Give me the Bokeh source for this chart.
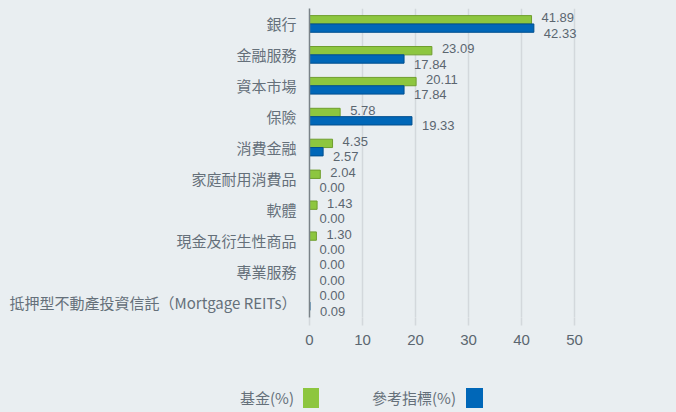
from bokeh.plotting import figure
from bokeh.models import ColumnDataSource, FactorRange, Range1d, FixedTicker, Div
from bokeh.layouts import column
from bokeh.transform import dodge
from bokeh.core.properties import value
from bokeh.embed import file_html
from bokeh.resources import INLINE

categories = ["銀行", "金融服務", "資本市場", "保險", "消費金融", "家庭耐用消費品",
              "軟體", "現金及衍生性商品", "專業服務", "抵押型不動產投資信託（Mortgage REITs）"]
fund = [41.89, 23.09, 20.11, 5.78, 4.35, 2.04, 1.43, 1.30, 0.00, 0.00]
bench = [42.33, 17.84, 17.84, 19.33, 2.57, 0.00, 0.00, 0.00, 0.00, 0.09]
x_ticks = [0, 10, 20, 30, 40, 50]
legend_labels = ["基金(%)", "參考指標(%)"]

BG = "#e9eef1"
GREEN = "#8dc63f"
GREEN_LINE = "#6f9e2e"
BLUE = "#0067b8"
BLUE_LINE = "#004f8f"
TXT = "#5b6670"
CAT_TXT = "#65707a"

src = ColumnDataSource(dict(
    cat=categories, fund=fund, bench=bench,
    fund_lbl=["%.2f" % v for v in fund],
    bench_lbl=["%.2f" % v for v in bench],
))

W, H, LH = 676, 360, 52
p = figure(width=W, height=H, output_backend="svg", toolbar_location=None,
           y_range=FactorRange(*reversed(categories)),
           x_range=Range1d(0, 54.9),
           min_border_left=309, min_border_right=76, min_border_top=8,
           min_border_bottom=43)
p.background_fill_color = BG
p.border_fill_color = BG
p.outline_line_color = None

p.hbar(y=dodge("cat", 0.135, range=p.y_range), right="fund", left=0, height=0.27,
       fill_color=GREEN, line_color=GREEN_LINE, line_width=1, source=src)
p.hbar(y=dodge("cat", -0.135, range=p.y_range), right="bench", left=0, height=0.27,
       fill_color=BLUE, line_color=BLUE_LINE, line_width=1, source=src)

p.text(x="fund", y=dodge("cat", 0.135, range=p.y_range), text="fund_lbl", source=src,
       x_offset=10, y_offset=-2, text_baseline="middle", text_align="left",
       text_font=value("Liberation Sans"), text_font_size="13px", text_color=TXT)
p.text(x="bench", y=dodge("cat", -0.135, range=p.y_range), text="bench_lbl", source=src,
       x_offset=10, y_offset=5, text_baseline="middle", text_align="left",
       text_font=value("Liberation Sans"), text_font_size="13px", text_color=TXT)

p.ygrid.grid_line_color = None
p.xgrid.grid_line_color = "#d3d8dc"
p.xgrid.grid_line_width = 1.5
p.xaxis.ticker = FixedTicker(ticks=x_ticks)
p.xaxis.axis_line_color = None
p.xaxis.major_tick_line_color = "#d3d8dc"
p.xaxis.major_tick_line_width = 1.5
p.xaxis.major_tick_out = 8
p.xaxis.major_tick_in = 0
p.xaxis.minor_tick_line_color = None
p.xaxis.major_label_standoff = 9
p.xaxis.major_label_text_font = "Liberation Sans"
p.xaxis.major_label_text_font_size = "15px"
p.xaxis.major_label_text_color = TXT

p.yaxis.axis_line_color = "#7a8288"
p.yaxis.axis_line_width = 1.5
p.yaxis.major_tick_line_color = None
p.yaxis.minor_tick_line_color = None
p.yaxis.major_label_standoff = 7
p.yaxis.major_label_text_font = "Noto Sans CJK TC"
p.yaxis.major_label_text_font_size = "15px"
p.yaxis.major_label_text_color = CAT_TXT

# legend strip below the chart: label, then its colour square
span = ("position:absolute;top:28px;height:20px;line-height:20px;white-space:nowrap;")
html = (
    f'<div style="position:relative;width:{W}px;height:{LH}px;background:{BG};'
    f'font-family:\'Noto Sans CJK TC\';font-size:15px;color:{CAT_TXT};">'
    f'<span style="{span}right:382px;">{legend_labels[0]}</span>'
    f'<span style="{span}left:303px;width:16px;background:{GREEN};"></span>'
    f'<span style="{span}right:220px;">{legend_labels[1]}</span>'
    f'<span style="{span}left:466px;width:17px;background:{BLUE};"></span>'
    f'</div>'
)
leg = Div(text=html, width=W, height=LH, margin=(0, 0, 0, 0),
          styles={"background-color": BG})

layout = column(p, leg, spacing=0, margin=(0, 0, 0, 0), styles={"background-color": BG})
open("out.html", "w").write(file_html(layout, INLINE))
